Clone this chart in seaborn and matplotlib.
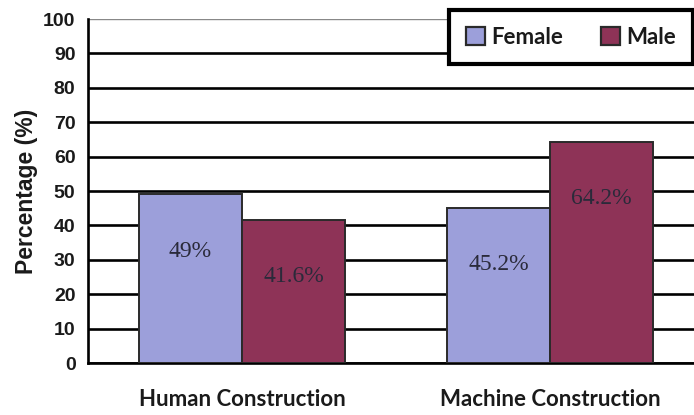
import pandas as pd
import matplotlib.pyplot as plt
import seaborn as sns

# --- data --- #
groups = ["Human Construction", "Machine Construction"]
genders = ["Female", "Male"]
female_pct = [49.0, 45.2]
male_pct = [41.6, 64.2]
value_labels = {"Female": ["49%", "45.2%"], "Male": ["41.6%", "64.2%"]}

palette = {"Female": "#9c9fda", "Male": "#8e3357"}

df = pd.DataFrame({
    "group": groups * 2,
    "gender": ["Female"] * 2 + ["Male"] * 2,
    "pct": female_pct + male_pct,
})

# --- plot --- #
sns.set_style("white")
fig = plt.figure(figsize=(6.94, 4.15), dpi=100)
ax = fig.add_axes([88 / 694, 1 - 363 / 415, 616 / 694, 344 / 415])

sns.barplot(data=df, x="group", y="pct", hue="gender", order=groups,
            hue_order=genders, palette=palette, width=0.67, gap=0,
            edgecolor="#2a2a2a", linewidth=1.4, saturation=1, ax=ax, zorder=3)

ax.set_xlim(-0.5, 1.5)
ax.set_ylim(0, 100)
ax.set_yticks(range(0, 101, 10))
ax.yaxis.grid(True, color="black", linewidth=1.9, zorder=0)
ax.set_axisbelow(True)
ax.get_ygridlines()[-1].set_color("#888888")
ax.get_ygridlines()[-1].set_linewidth(1.0)

for s in ["top", "right"]:
    ax.spines[s].set_visible(False)
for s in ["left", "bottom"]:
    ax.spines[s].set_color("black")
    ax.spines[s].set_linewidth(1.9)

ax.tick_params(axis="y", direction="out", length=6, width=1.9, color="black",
               labelsize=14, pad=3)
for t in ax.get_yticklabels():
    t.set_fontfamily("Liberation Sans")
    t.set_fontweight("bold")
    t.set_color("#1a1a1a")

ax.set_xticks([-0.5, 0.5, 1.5], minor=True)
ax.tick_params(axis="x", which="minor", direction="out", length=7, width=1.9, color="black")
ax.tick_params(axis="x", which="major", length=0, pad=19)
ax.set_xticks(range(len(groups)))
ax.set_xticklabels(groups, fontfamily="Lato", fontweight="bold", fontsize=16, color="#1a1a1a")

ax.set_xlabel("")
ax.set_ylabel("Percentage (%)", fontfamily="Liberation Sans", fontweight="bold",
              fontsize=16.5, color="#1a1a1a", labelpad=4)

# value labels inside bars
for cont, g in zip(ax.containers, genders):
    for bar, lab in zip(cont, value_labels[g]):
        h = bar.get_height()
        ax.text(bar.get_x() + bar.get_width() / 2, h - 16.5, lab,
                ha="center", va="center", fontsize=17,
                fontfamily="Liberation Serif", color="#2a2a3a", zorder=4)

# legend
leg = ax.legend(loc="upper left", bbox_to_anchor=(449 / 694, 1 - 10 / 415),
                bbox_transform=fig.transFigure, borderaxespad=0, ncol=2,
                frameon=True, fancybox=False, handlelength=0.85, handleheight=0.85,
                handletextpad=0.3, columnspacing=1.7, borderpad=0.75,
                prop={"family": "Lato", "weight": "bold", "size": 16})
leg.get_frame().set_edgecolor("black")
leg.get_frame().set_linewidth(3)
leg.get_frame().set_facecolor("white")
leg.get_frame().set_alpha(1)
leg.set_zorder(10)
for t in leg.get_texts():
    t.set_color("#1a1a1a")
for h in leg.legend_handles:
    h.set_edgecolor("#2a2a2a")
    h.set_linewidth(1.6)

fig.savefig("out.png", dpi=100)
